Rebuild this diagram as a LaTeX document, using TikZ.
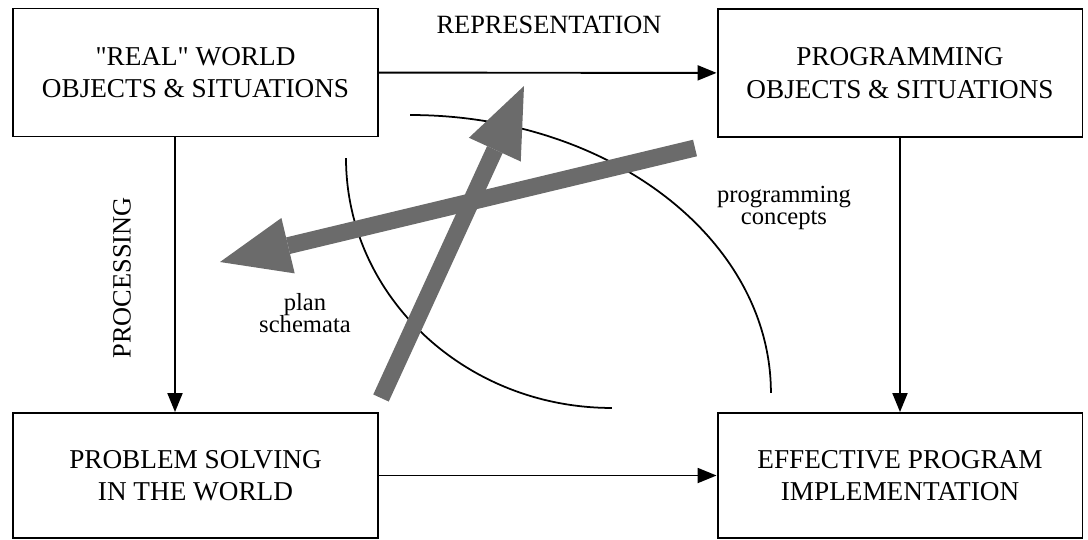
\documentclass[tikz,border=0pt]{standalone}
\usepackage{fontspec}
\setmainfont{Liberation Serif}
\usetikzlibrary{arrows.meta,positioning}

\begin{document}
\begin{tikzpicture}[x=0.02cm,y=-0.02cm,
	box/.style={draw,line width=1.1pt,minimum width=7.3cm,minimum height=2.56cm,align=center,font=\fontsize{15.5}{18.5}\selectfont},
	arr/.style={line width=1.1pt,-{Triangle[length=0.38cm,width=0.3cm]}},
	band/.style={black!58,line width=0.34cm,-{Triangle[length=1.4cm,width=1.14cm,line width=0pt]}},
	lbl/.style={font=\fontsize{15}{18}\selectfont},
	note/.style={align=center,font=\fontsize{14}{13}\selectfont}]
	\useasboundingbox (0,0) rectangle (1088,539);

	\node[box] (real) at (195.5,72.5) {\textquotedbl REAL\textquotedbl{} WORLD\\OBJECTS \& SITUATIONS};
	\node[box] (prog) at (900,73) {PROGRAMMING\\OBJECTS \& SITUATIONS};
	\node[box,minimum height=2.5cm] (solve) at (195.5,475.5) {PROBLEM SOLVING\\IN THE WORLD};
	\node[box,minimum height=2.5cm] (impl) at (900,475.5) {EFFECTIVE PROGRAM\\IMPLEMENTATION};

	\draw[arr] (real) -- (prog);
	\draw[arr] ([xshift=-0.41cm]real.south) -- ([xshift=-0.41cm]solve.north);
	\draw[arr] (prog) -- (impl);
	\draw[arr] (solve) -- (impl);

	\node[lbl] (repr) at (549,25) {REPRESENTATION};
	\node[lbl,rotate=90] (proc) at (122,278) {PROCESSING};
	\node[note] (pconc) at (784,208) {programming\\concepts};
	\node[note] (pschem) at (305,313) {plan\\schemata};

	% the two arcs
	\draw[line width=1pt] (346,158) arc[start angle=180,end angle=270,x radius=5.32cm,y radius=5cm];
	\draw[line width=1pt] (410,115) arc[start angle=90,end angle=0,x radius=7.22cm,y radius=5.56cm];

	% grey arrows
	\coordinate (uptail) at (381,398);
	\coordinate (uptip) at (524,86);
	\coordinate (lftail) at (695,148);
	\coordinate (lftip) at (220,262);
	\draw[band] (uptail) -- (uptip);
	\draw[band] (lftail) -- (lftip);
\end{tikzpicture}
\end{document}
